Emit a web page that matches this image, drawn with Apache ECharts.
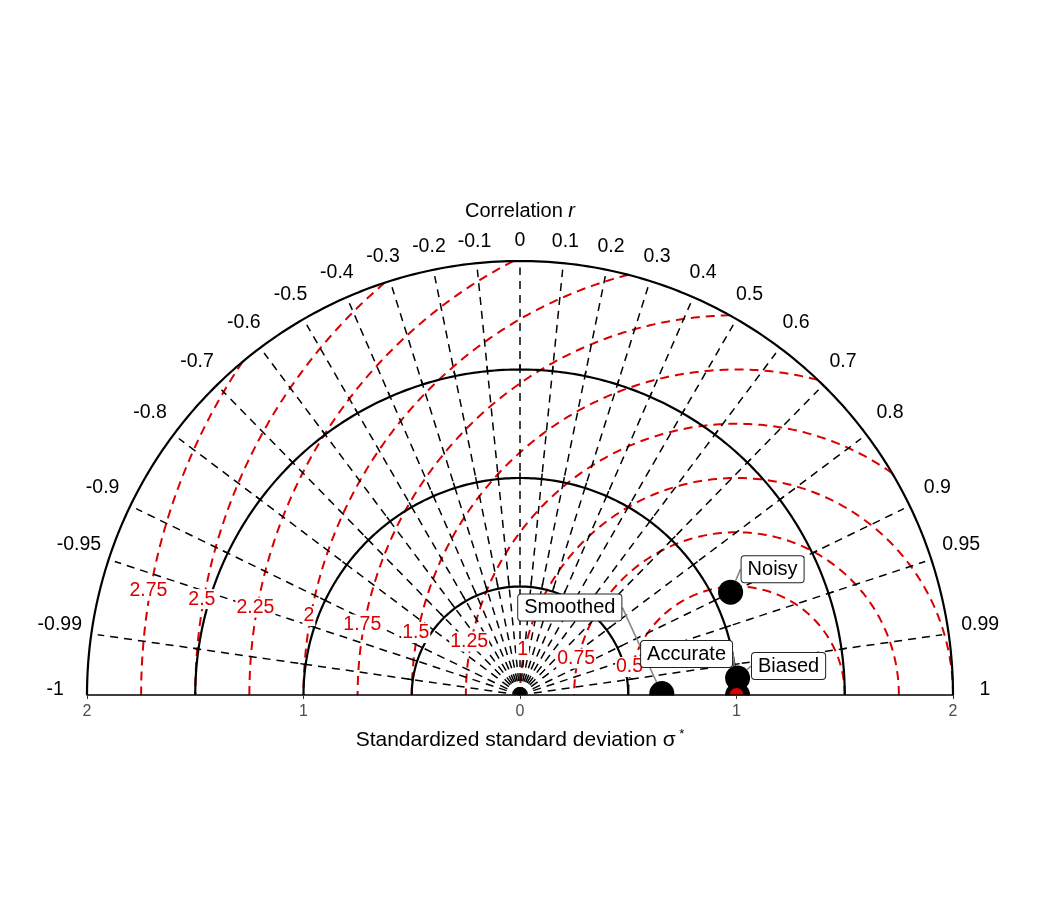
<!DOCTYPE html>
<html>
<head>
<meta charset="utf-8">
<script src="https://cdn.jsdelivr.net/npm/echarts@6/dist/echarts.min.js"></script>
<style>html,body{margin:0;padding:0;background:#fff}</style>
</head>
<body>
<div id="chart" style="width:1040px;height:910px"></div>
<script>
// correlation grid lines (r)
var corrTicks = [-1, -0.99, -0.95, -0.9, -0.8, -0.7, -0.6, -0.5, -0.4, -0.3, -0.2, -0.1, 0,
                 0.1, 0.2, 0.3, 0.4, 0.5, 0.6, 0.7, 0.8, 0.9, 0.95, 0.99, 1];
// standardized sd circles and centred RMS difference circles
var sdCircles = [0.5, 1, 1.5, 2];
var rmsCircles = [0.5, 0.75, 1, 1.25, 1.5, 1.75, 2, 2.25, 2.5, 2.75];
// models
var models = ['Smoothed', 'Accurate', 'Biased', 'Noisy'];
var modelSd = [0.655, 1.005, 1.008, 1.082];
var modelCorr = [0.99995, 1.0, 0.997, 0.899];
var refSd = 1;

var chart = echarts.init(document.getElementById('chart'));
var RED = '#d90000';
var SDMAX = 2;
var FONT = 'Liberation Sans, Arial, sans-serif';

function polar(r, c) {
  return [r * c, r * Math.sqrt(Math.max(0, 1 - c * c))];
}

var series = [];

// red RMS arcs, clipped to the outer sd circle
rmsCircles.forEach(function (d) {
  var cmin = (SDMAX * SDMAX - refSd * refSd - d * d) / (2 * d * refSd);
  var t0 = Math.acos(Math.max(-1, Math.min(1, cmin)));
  var pts = [];
  for (var i = 0; i <= 200; i++) {
    var t = t0 + (Math.PI - t0) * i / 200;
    pts.push([refSd + d * Math.cos(t), d * Math.sin(t)]);
  }
  series.push({
    type: 'line', data: pts, symbol: 'none', silent: true, z: 3,
    lineStyle: { color: RED, width: 2, type: [9, 6] }
  });
});

// black dashed correlation rays
corrTicks.forEach(function (c) {
  if (Math.abs(c) === 1) return;
  series.push({
    type: 'line', data: [[0, 0], polar(1.97, c)], symbol: 'none', silent: true, z: 3,
    lineStyle: { color: '#000', width: 1.5, type: [8, 6] }
  });
});

// solid sd circles
sdCircles.forEach(function (r) {
  var pts = [];
  for (var i = 0; i <= 240; i++) {
    var t = Math.PI * i / 240;
    pts.push([r * Math.cos(t), r * Math.sin(t)]);
  }
  series.push({
    type: 'line', data: pts, symbol: 'none', silent: true, z: 4,
    lineStyle: { color: '#000', width: 2.2 }
  });
  if (r < SDMAX) {
    corrTicks.forEach(function (c) {
      if (Math.abs(c) === 1) return;
      series.push({
        type: 'line', data: [polar(r, c), polar(r + 0.025, c)], symbol: 'none', silent: true, z: 4,
        lineStyle: { color: '#000', width: 1.5 }
      });
    });
  }
});

// red RMS labels
series.push({
  type: 'scatter', symbolSize: 1, silent: true, z: 6, clip: false,
  itemStyle: { color: 'rgba(0,0,0,0)', opacity: 1 },
  data: rmsCircles.map(function (d) {
    var t = 171 * Math.PI / 180;
    return { value: [refSd + d * Math.cos(t), d * Math.sin(t)], name: String(d) };
  }),
  label: {
    show: true, position: 'inside', offset: [0, -11], formatter: '{b}',
    color: RED, fontSize: 19.5, fontFamily: FONT,
    backgroundColor: '#fff', padding: [0, 1]
  }
});

// correlation labels
series.push({
  type: 'scatter', symbolSize: 1, silent: true, z: 6, clip: false,
  itemStyle: { color: 'rgba(0,0,0,0)', opacity: 1 },
  data: corrTicks.map(function (c) {
    return {
      value: polar((454 + 12 * Math.abs(c)) / 217, c), name: String(c),
      label: { offset: [0, -5 * Math.abs(c)] }
    };
  }),
  label: {
    show: true, position: 'inside', formatter: '{b}',
    color: '#000', fontSize: 19.5, fontFamily: FONT
  }
});

// model points
var labelShift = [[-92, -86], [-51, -41], [51, -12], [42, -23]];
series.push({
  type: 'scatter', symbolSize: 25, z: 7, clip: false,
  itemStyle: { color: '#000', opacity: 1 },
  data: models.map(function (m, i) {
    return { value: polar(modelSd[i], modelCorr[i]), name: m };
  }),
  label: {
    show: true, position: 'inside', formatter: '{b}',
    color: '#000', fontSize: 20, fontFamily: FONT,
    backgroundColor: '#fff', borderColor: '#222', borderWidth: 1, borderRadius: 3,
    padding: [4, 6, 2, 6]
  },
  labelLine: { show: true, lineStyle: { color: '#888', width: 1.6, opacity: 1 } },
  labelLayout: function (p) {
    return { dx: labelShift[p.dataIndex][0], dy: labelShift[p.dataIndex][1] };
  }
});

// reference point
series.push({
  type: 'scatter', symbolSize: 14, z: 8, silent: true, clip: false,
  itemStyle: { color: RED, opacity: 1 },
  data: [[refSd, 0]]
});

var option = {
  animation: false,
  backgroundColor: '#fff',
  title: {
    text: 'Correlation {i|r}', left: 'center', top: 196,
    textStyle: {
      fontSize: 20, fontWeight: 'normal', color: '#000', fontFamily: FONT,
      rich: { i: { fontStyle: 'italic', fontSize: 20, color: '#000', fontFamily: FONT } }
    }
  },
  grid: { left: 87, right: 87, top: 261, bottom: 215 },
  xAxis: {
    type: 'value', min: -2, max: 2, interval: 1, z: 60,
    axisLine: { lineStyle: { color: '#000', width: 1.5 } },
    axisTick: { show: true, length: 4, lineStyle: { color: '#333' } },
    splitLine: { show: false },
    axisLabel: {
      color: '#4d4d4d', fontSize: 16, margin: 9, fontFamily: FONT,
      formatter: function (v) { return String(Math.abs(v)); }
    },
    name: '{a|Standardized standard deviation σ}{s| *}',
    nameLocation: 'middle', nameGap: 33,
    nameTextStyle: {
      rich: {
        a: { fontSize: 21, color: '#000', fontFamily: FONT },
        s: { fontSize: 13, color: '#000', verticalAlign: 'top', padding: [0, 0, 12, 0], fontFamily: FONT }
      }
    }
  },
  yAxis: { type: 'value', min: 0, max: 2, show: false },
  graphic: [{
    type: 'rect', z: 50, silent: true,
    shape: { x: 0, y: 695.5, width: 1040, height: 22 },
    style: { fill: '#fff' }
  }],
  series: series
};

chart.setOption(option);
</script>
</body>
</html>
